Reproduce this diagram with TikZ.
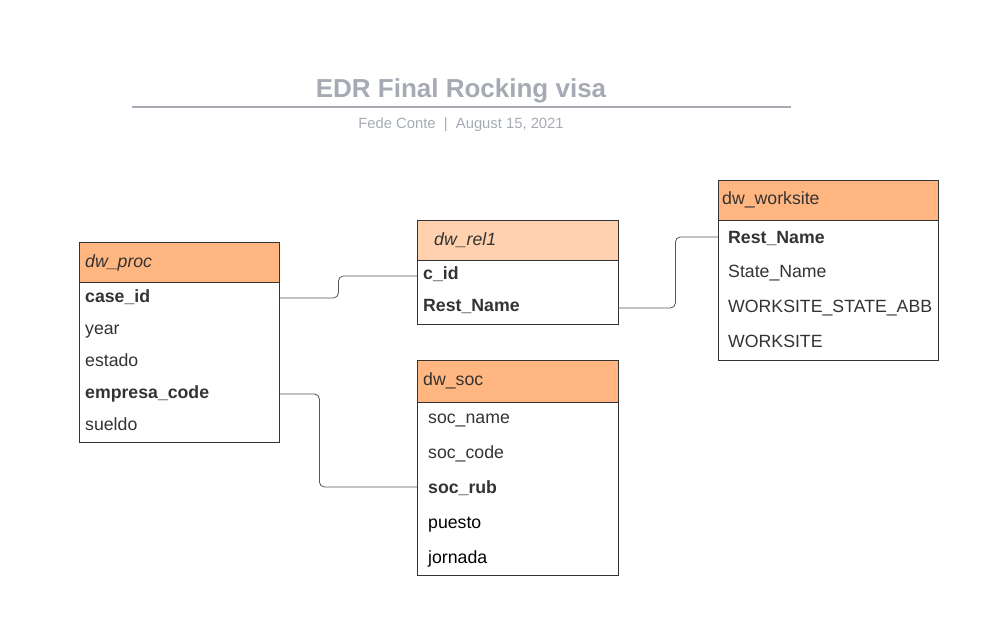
\documentclass[tikz,border=0pt]{standalone}
\usepackage{fontspec}
\setmainfont{Liberation Sans}
\definecolor{hdrorange}{HTML}{FFB680}
\definecolor{hdrlight}{HTML}{FFD1AE}
\definecolor{txtgray}{HTML}{333333}
\definecolor{titlegray}{HTML}{A5AAB3}
\definecolor{linegray}{HTML}{555555}
\tikzset{
  tbl/.style={draw=txtgray, line width=0.9pt},
  fieldtxt/.style={anchor=west, inner ysep=0pt, text height=12.5pt, text depth=3.5pt,
    align=left, text=txtgray, font=\fontsize{17.7}{20}\selectfont},
  procf/.style={fieldtxt, inner xsep=6pt, text width=188pt},
  relf/.style={fieldtxt, inner xsep=6pt, text width=189pt},
  socf/.style={fieldtxt, inner xsep=11pt, text width=179pt},
  wsf/.style={fieldtxt, inner xsep=10pt, text width=200pt},
  conn/.style={draw=linegray, line width=0.8pt, rounded corners=5pt},
}
\begin{document}
\begin{tikzpicture}[x=1pt,y=-1pt]
\useasboundingbox (0,0) rectangle (999,634);
% title
\node[text=titlegray, font=\fontsize{26}{30}\selectfont\bfseries] (title) at (461,91) {EDR Final Rocking visa};
\draw[titlegray, line width=1.6pt] (132,107) -- (791,107);
\node[text=titlegray, font=\fontsize{14.8}{18}\selectfont] (subtitle) at (461,124.5) {Fede Conte \ |\ \ August 15, 2021};

% dw_proc
\filldraw[tbl, fill=hdrorange] (79,242) rectangle (279,282);
\draw[tbl] (79,282) rectangle (279,442);
\node[procf] (proch) at (79,262.5) {\itshape dw\_proc};
\node[procf] (caseid) at (79,298) {\bfseries case\_id};
\node[procf] (year) at (79,330) {year};
\node[procf] (estado) at (79,362) {estado};
\node[procf] (empcode) at (79,394) {\bfseries empresa\_code};
\node[procf] (sueldo) at (79,426) {sueldo};

% dw_rel1
\filldraw[tbl, fill=hdrlight] (417,220) rectangle (618,260);
\draw[tbl] (417,260) rectangle (618,324);
\node[relf, inner xsep=17pt, text width=167pt] (relh) at (417,241) {\itshape dw\_rel1};
\node[relf] (cid) at (417,275) {\bfseries c\_id};
\node[relf] (rrest) at (417,307) {\bfseries Rest\_Name};

% dw_worksite
\filldraw[tbl, fill=hdrorange] (718,180) rectangle (938,220);
\draw[tbl] (718,220) rectangle (938,360);
\node[wsf, inner xsep=4pt, text width=212pt] (wsh) at (718,200) {dw\_worksite};
\node[wsf] (wrest) at (718,239) {\bfseries Rest\_Name};
\node[wsf] (wstate) at (718,273) {State\_Name};
\node[wsf] (wabb) at (718,308) {WORKSITE\_STATE\_ABB};
\node[wsf] (wws) at (718,343) {WORKSITE};

% dw_soc
\filldraw[tbl, fill=hdrorange] (417,360) rectangle (618,402);
\draw[tbl] (417,402) rectangle (618,575);
\node[socf, inner xsep=6pt, text width=189pt] (soch) at (417,381) {dw\_soc};
\node[socf] (socname) at (417,419) {soc\_name};
\node[socf] (soccode) at (417,454) {soc\_code};
\node[socf] (socrub) at (417,489) {\bfseries soc\_rub};
\node[socf, text=black] (puesto) at (417,524) {puesto};
\node[socf, text=black] (jornada) at (417,559) {jornada};

% connectors
\draw[conn] (caseid.east) -- ++(59,0) |- ([yshift=-1pt]cid.west);
\draw[conn] ([yshift=-1pt]rrest.east) -- ++(57,0) |- ([yshift=2pt]wrest.west);
\draw[conn] (empcode.east) -- ++(40,0) |- ([yshift=2pt]socrub.west);
\end{tikzpicture}
\end{document}
